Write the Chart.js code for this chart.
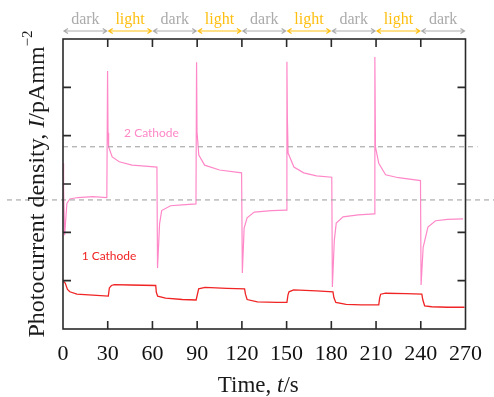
<!DOCTYPE html>
<html>
<head>
<meta charset="utf-8">
<script src="https://cdn.jsdelivr.net/npm/chart.js@4/dist/chart.umd.min.js"></script>
<style>
   html, body { margin: 0; padding: 0; background: #fff; }
   #wrap { position: relative; width: 494px; height: 397px; }
</style>
</head>
<body>
<div id="wrap"><canvas id="chart"></canvas></div>
<script>
// time axis (s) and tick labels
const timeTicks = [0, 30, 60, 90, 120, 150, 180, 210, 240, 270];
const phases = ['dark', 'light', 'dark', 'light', 'dark', 'light', 'dark', 'light', 'dark'];

// 2 Cathode (pink) photocurrent
const pinkT = [0, 0.4, 1.1, 2.6, 4.6, 10, 20, 29.4,
   29.9, 30.2, 30.6, 33, 37.7, 46.3, 55, 63.0,
   63.4, 64.8, 66.2, 72.1, 80, 89.2,
   89.6, 89.9, 91.1, 95, 105, 119.8,
   120.3, 121.5, 123.5, 128.3, 140, 149.8,
   150.2, 150.5, 151, 154.9, 161.5, 170, 180.3,
   180.7, 182, 183.3, 187.9, 198, 208.8,
   209.2, 209.6, 211.8, 216.4, 225, 239.8,
   240.2, 241.6, 244.8, 249.9, 258, 268.4];
const pinkI = [3.43, 2.90, 1.94, 2.60, 2.69, 2.72, 2.74, 2.72,
   5.34, 4.06, 3.77, 3.56, 3.46, 3.39, 3.37, 3.35,
   1.26, 2.18, 2.45, 2.55, 2.57, 2.59,
   5.52, 4.08, 3.60, 3.39, 3.29, 3.23,
   1.16, 2.09, 2.30, 2.42, 2.45, 2.46,
   5.53, 4.39, 3.64, 3.35, 3.23, 3.17, 3.14,
   0.87, 1.84, 2.19, 2.32, 2.36, 2.38,
   5.63, 3.77, 3.43, 3.19, 3.13, 3.07,
   0.91, 1.69, 2.11, 2.24, 2.27, 2.28];

// 1 Cathode (red) photocurrent
const redT = [0.2, 1.5, 3, 4.6, 9.3, 19.9, 30.4,
   31.1, 32.5, 34.4, 45, 62.2,
   62.6, 63.5, 68.8, 80, 89.3,
   90.4, 91, 95.3, 110, 121.8,
   122.4, 123.5, 130.4, 143.6, 150.2,
   150.9, 151.6, 154.7, 170, 181.1,
   181.7, 183, 189.9, 200, 211.8,
   212.4, 213.1, 216.4, 230, 240.7,
   241.4, 242.6, 247.3, 258, 269.3];
const redI = [0.99, 0.95, 0.82, 0.77, 0.72, 0.70, 0.68,
   0.85, 0.90, 0.92, 0.91, 0.90,
   0.76, 0.68, 0.64, 0.61, 0.60,
   0.75, 0.83, 0.86, 0.84, 0.83,
   0.72, 0.61, 0.56, 0.55, 0.55,
   0.70, 0.77, 0.81, 0.79, 0.77,
   0.65, 0.55, 0.51, 0.50, 0.50,
   0.64, 0.72, 0.74, 0.73, 0.72,
   0.60, 0.48, 0.46, 0.45, 0.45];

// dashed reference levels
const refLevels = [3.77, 2.67];
const yTicks = [1, 2, 3, 4, 5];

const pink = '#ff88c8';
const red = '#f02424';
const serif = '"Liberation Serif", "DejaVu Serif", serif';

const frame = {
   id: 'frame',
   afterDatasetsDraw(chart) {
      const ctx = chart.ctx;
      const a = chart.chartArea;
      const xs = chart.scales.x;
      const ys = chart.scales.y;
      ctx.save();

      // dashed lines
      ctx.strokeStyle = '#9a9a9a';
      ctx.lineWidth = 1;
      ctx.setLineDash([5, 4]);
      let py = ys.getPixelForValue(refLevels[0]);
      ctx.beginPath();
      ctx.moveTo(a.left, py);
      ctx.lineTo(a.right + 12, py);
      ctx.stroke();
      py = ys.getPixelForValue(refLevels[1]);
      ctx.beginPath();
      ctx.moveTo(7, py);
      ctx.lineTo(chart.width, py);
      ctx.stroke();
      ctx.setLineDash([]);

      // box and inward ticks
      ctx.strokeStyle = '#2a2a2a';
      ctx.lineWidth = 1.6;
      ctx.strokeRect(a.left, a.top, a.right - a.left, a.bottom - a.top);
      ctx.beginPath();
      timeTicks.slice(1, -1).forEach(t => {
         const px = xs.getPixelForValue(t);
         ctx.moveTo(px, a.bottom);
         ctx.lineTo(px, a.bottom - 8);
         ctx.moveTo(px, a.top);
         ctx.lineTo(px, a.top + 8);
      });
      yTicks.forEach(v => {
         const p = ys.getPixelForValue(v);
         ctx.moveTo(a.left, p);
         ctx.lineTo(a.left + 8, p);
         ctx.moveTo(a.right, p);
         ctx.lineTo(a.right - 8, p);
      });
      ctx.stroke();

      // series labels
      ctx.font = '12px Lato, "Noto Sans", sans-serif';
      ctx.textBaseline = 'middle';
      ctx.textAlign = 'left';
      ctx.fillStyle = pink;
      ctx.fillText('2 Cathode', xs.getPixelForValue(41), ys.getPixelForValue(4.06));
      ctx.fillStyle = red;
      ctx.fillText('1 Cathode', xs.getPixelForValue(12.5), ys.getPixelForValue(1.5));

      // dark / light header
      for (let i = 0; i < phases.length; i++) {
         const x0 = xs.getPixelForValue(i * 30) + 1;
         const x1 = xs.getPixelForValue(i * 30 + 30) - 1;
         const col = phases[i] === 'light' ? '#ffbf10' : '#ababab';
         const ay = 31;
         ctx.strokeStyle = col;
         ctx.fillStyle = col;
         ctx.lineWidth = 1.2;
         ctx.beginPath();
         ctx.moveTo(x0, ay);
         ctx.lineTo(x1, ay);
         ctx.moveTo(x0 + 4, ay - 2.5);
         ctx.lineTo(x0, ay);
         ctx.lineTo(x0 + 4, ay + 2.5);
         ctx.moveTo(x1 - 4, ay - 2.5);
         ctx.lineTo(x1, ay);
         ctx.lineTo(x1 - 4, ay + 2.5);
         ctx.stroke();
         ctx.font = '16px ' + serif;
         ctx.textAlign = 'center';
         ctx.textBaseline = 'alphabetic';
         ctx.fillText(phases[i], (x0 + x1) / 2, 24);
      }

      // axis titles
      ctx.fillStyle = '#1a1a1a';
      ctx.textAlign = 'left';
      ctx.textBaseline = 'alphabetic';
      const xParts = [['Time, ', ''], ['t', 'italic '], ['/s', '']];
      let w = 0;
      xParts.forEach(p => { ctx.font = p[1] + '23px ' + serif; w += ctx.measureText(p[0]).width; });
      let cx = (a.left + a.right) / 2 - 6 - w / 2;
      xParts.forEach(p => {
         ctx.font = p[1] + '23px ' + serif;
         ctx.fillText(p[0], cx, 392);
         cx += ctx.measureText(p[0]).width;
      });

      ctx.translate(44, (a.top + a.bottom) / 2);
      ctx.rotate(-Math.PI / 2);
      const yParts = [['Photocurrent density, ', '', 24, 0], ['I', 'italic ', 24, 0], ['/pAmm', '', 24, 0], ['\u22122', '', 15, -12]];
      w = 0;
      yParts.forEach(p => { ctx.font = p[1] + p[2] + 'px ' + serif; w += ctx.measureText(p[0]).width; });
      cx = -w / 2;
      yParts.forEach(p => {
         ctx.font = p[1] + p[2] + 'px ' + serif;
         ctx.fillText(p[0], cx, p[3]);
         cx += ctx.measureText(p[0]).width;
      });
      ctx.restore();
   }
};

new Chart(document.getElementById('chart'), {
   type: 'line',
   data: {
      datasets: [
         {
            label: '2 Cathode',
            data: pinkT.map((t, i) => ({ x: t, y: pinkI[i] })),
            borderColor: pink,
            borderWidth: 1.2,
            pointRadius: 0,
            tension: 0,
         },
         {
            label: '1 Cathode',
            data: redT.map((t, i) => ({ x: t, y: redI[i] })),
            borderColor: red,
            borderWidth: 1.3,
            pointRadius: 0,
            tension: 0,
         },
      ],
   },
   options: {
      responsive: true,
      maintainAspectRatio: false,
      animation: false,
      layout: { padding: { top: 39, right: 23, left: 0, bottom: 0 } },
      plugins: {
         legend: { display: false },
         tooltip: { enabled: false },
      },
      scales: {
         x: {
            type: 'linear',
            min: 0,
            max: 270,
            afterBuildTicks: s => { s.ticks = timeTicks.map(v => ({ value: v })); },
            afterFit: s => { s.height = 68; },
            grid: { display: false, drawTicks: false },
            border: { display: false },
            ticks: {
               color: '#111',
               padding: 12,
               maxRotation: 0,
               font: { family: serif, size: 22 },
            },
         },
         y: {
            min: 0,
            max: 6,
            afterFit: s => { s.width = 63; },
            grid: { display: false, drawTicks: false },
            border: { display: false },
            ticks: { display: false },
         },
      },
   },
   plugins: [frame],
});
</script>
</body>
</html>
